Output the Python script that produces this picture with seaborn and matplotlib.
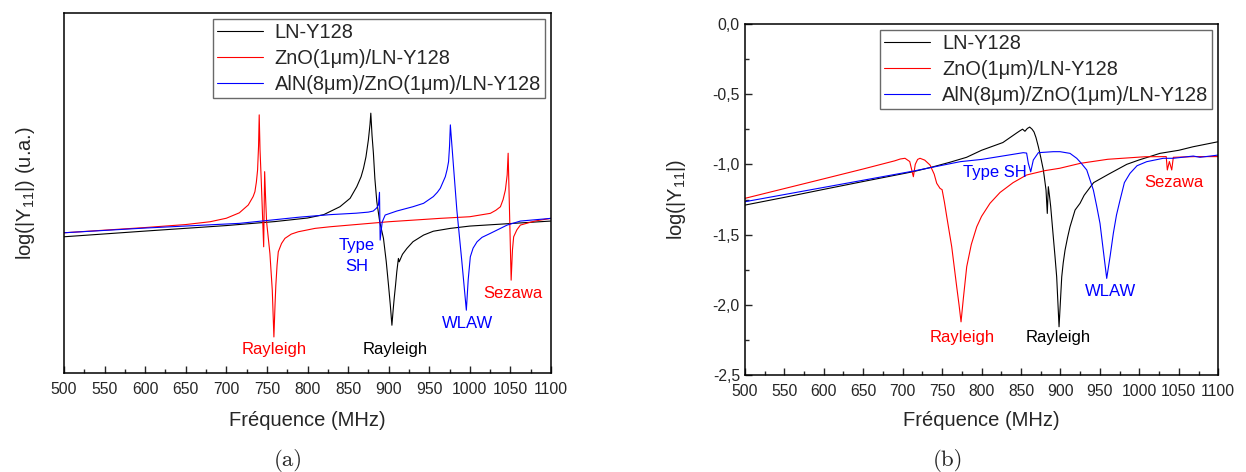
import pandas as pd
import numpy as np
import matplotlib.pyplot as plt
import seaborn as sns
from matplotlib.ticker import MultipleLocator, FuncFormatter

# series names / colours
series = ['LN-Y128', 'ZnO(1μm)/LN-Y128', 'AlN(8μm)/ZnO(1μm)/LN-Y128']
colors = ['black', 'red', 'blue']

# ---- (a) simulation, arbitrary units ----
a_f_ln = [500, 600, 700, 760, 800, 820, 840, 852.5, 860.7, 866, 869, 872, 875, 877, 878, 879.5, 881.2, 883,
          885.4, 889, 893.6, 897, 899.8, 902, 904, 905.5, 906.8, 908.5, 910, 912, 913, 917, 922.5, 930,
          943, 955, 976, 1000, 1050, 1100]
a_v_ln = [3.786, 3.944, 4.097, 4.208, 4.306, 4.40, 4.62, 4.853, 5.175, 5.45, 5.686, 6.0, 6.472, 6.9, 7.214, 6.6,
          6.103, 5.4, 4.758, 4.2, 3.742, 3.1, 2.444, 1.9, 1.333, 1.75, 2.075, 2.45, 2.814, 3.186, 3.092, 3.3,
          3.464, 3.65, 3.833, 3.94, 4.019, 4.083, 4.153, 4.222]

a_f_zno = [500, 600, 650, 680, 700, 716, 727, 733, 735.2, 737, 738.5, 739.7, 740.5, 741.5, 743, 746, 747.2,
           748.3, 749.6, 753.7, 756.6, 758.6, 760, 761, 762.5, 764, 768, 772.2, 780, 788.6, 809.3, 828, 900,
           963.6, 1000, 1025.3, 1032, 1037.7, 1041, 1043.8, 1046, 1047.2, 1049, 1050.9, 1052.5, 1054, 1058,
           1062.3, 1080, 1100]
a_v_zno = [3.897, 4.042, 4.125, 4.203, 4.30, 4.45, 4.667, 4.9, 5.036, 5.3, 5.639, 6.3, 7.167, 6.2, 5.361, 3.508,
           5.592, 4.9, 4.203, 3.319, 2.306, 1.008, 1.9, 2.444, 3.0, 3.369, 3.6, 3.742, 3.86, 3.925, 4.019,
           4.064, 4.203, 4.297, 4.342, 4.436, 4.52, 4.619, 4.82, 5.083, 5.5, 6.103, 4.389, 2.583, 3.417,
           3.786, 3.98, 4.111, 4.222, 4.297]

a_f_aln = [500, 600, 716, 790, 828, 860, 875, 881, 885, 887.4, 888.7, 889.5, 892, 895.7, 910, 930, 943, 955,
           960, 963.6, 969.8, 972, 973.8, 975, 976, 980, 984, 990, 995.7, 998, 1000.6, 1004, 1008.9, 1015,
           1025.3, 1046, 1062.3, 1100]
a_v_aln = [3.897, 4.028, 4.158, 4.33, 4.40, 4.44, 4.47, 4.50, 4.58, 4.667, 5.019, 3.694, 4.194, 4.389, 4.5,
           4.62, 4.714, 4.9, 5.02, 5.131, 5.453, 5.65, 5.869, 6.3, 6.889, 5.7, 4.528, 3.139, 1.75, 2.6, 3.231,
           3.47, 3.647, 3.77, 3.881, 4.111, 4.222, 4.297]

# ---- (b) measurement, log(|Y11|) ----
b_f_ln = [500, 550, 600, 650, 700, 713.5, 739, 760, 781, 800, 827, 845, 849, 852, 855, 858, 861, 864, 866.5,
          869, 872, 875, 878.3, 880, 881.7, 883.3, 884.6, 886, 887.6, 890.9, 893, 895.2, 898.2, 901.6, 903.5,
          905.8, 909, 912.1, 918.5, 924.8, 930, 942, 961, 984, 999, 1026, 1050, 1068, 1100]
b_y_ln = [-1.29, -1.235, -1.178, -1.122, -1.067, -1.052, -1.017, -0.985, -0.95, -0.9, -0.845, -0.775, -0.76,
          -0.75, -0.765, -0.745, -0.735, -0.75, -0.77, -0.81, -0.875, -0.95, -1.04, -1.11, -1.183, -1.349,
          -1.159, -1.22, -1.30, -1.515, -1.65, -1.80, -2.155, -1.80, -1.70, -1.61, -1.52, -1.444, -1.325,
          -1.277, -1.22, -1.13, -1.07, -1.0, -0.97, -0.922, -0.9, -0.875, -0.839]

b_f_zno = [500, 600, 650, 690, 697, 703, 709, 713.6, 716, 719, 722, 728, 734.7, 740, 743.2, 747.4, 750, 753,
           755.9, 762.2, 768.5, 771.5, 774, 777, 781.2, 787, 793.9, 800, 810.7, 823.4, 840, 857, 880, 899,
           925, 960, 1007, 1034, 1035.4, 1038, 1041, 1043, 1070, 1100]
b_y_zno = [-1.242, -1.103, -1.033, -0.975, -0.962, -0.957, -0.98, -1.088, -1.0, -0.965, -0.957, -0.97, -1.005,
           -1.07, -1.135, -1.171, -1.18, -1.27, -1.372, -1.586, -1.87, -2.0, -2.12, -1.95, -1.728, -1.57,
           -1.444, -1.37, -1.277, -1.2, -1.13, -1.076, -1.045, -1.028, -0.993, -0.964, -0.946, -0.945, -1.04,
           -0.98, -1.04, -0.95, -0.945, -0.945]

b_f_aln = [500, 600, 713.5, 773, 800, 852.9, 857.1, 859.3, 862.3, 865.6, 872, 890.9, 899.4, 912.1, 920.6,
           926, 933.3, 941.7, 946, 950.1, 954, 958.6, 963, 967, 971, 975.5, 981, 988.1, 997, 1009.3, 1030.3,
           1043, 1068.3, 1076.8, 1100]
b_y_aln = [-1.266, -1.164, -1.048, -0.981, -0.965, -0.917, -0.92, -0.993, -1.053, -0.969, -0.917, -0.91,
           -0.91, -0.922, -0.957, -0.99, -1.04, -1.183, -1.3, -1.42, -1.6, -1.811, -1.65, -1.49, -1.36,
           -1.254, -1.13, -1.064, -1.01, -0.981, -0.957, -0.957, -0.941, -0.95, -0.934]

# annotations (text, x, y, colour)
a_notes = [('Rayleigh', 759, 0.667, 'red'), ('Rayleigh', 908, 0.667, 'black'),
           ('Type\nSH', 860.5, 3.25, 'blue'), ('WLAW', 997, 1.38, 'blue'), ('Sezawa', 1053.6, 2.21, 'red')]
b_notes = [('Rayleigh', 776, -2.23, 'red'), ('Rayleigh', 897, -2.234, 'black'),
           ('Type SH', 817, -1.058, 'blue'), ('WLAW', 964, -1.907, 'blue'), ('Sezawa', 1043.7, -1.128, 'red')]


def make_df(fs, vs):
    rows = []
    for name, f, v in zip(series, fs, vs):
        rows.append(pd.DataFrame({'freq': f, 'val': v, 'serie': name}))
    return pd.concat(rows, ignore_index=True)


df_a = make_df([a_f_ln, a_f_zno, a_f_aln], [a_v_ln, a_v_zno, a_v_aln])
df_b = make_df([b_f_ln, b_f_zno, b_f_aln], [b_y_ln, b_y_zno, b_y_aln])

sns.set_style('ticks')
plt.rcParams['font.family'] = ['Liberation Sans', 'DejaVu Sans']
plt.rcParams['mathtext.fontset'] = 'custom'
plt.rcParams['mathtext.rm'] = 'Liberation Sans'
plt.rcParams['mathtext.it'] = 'Liberation Sans:italic'

W, H = 1246, 472
fig = plt.figure(figsize=(W / 100, H / 100), dpi=100)
ax1 = fig.add_axes([64 / W, 1 - 373.3 / H, 487 / W, 360.6 / H])
ax2 = fig.add_axes([744.8 / W, 1 - 375.3 / H, 473.5 / W, 351.6 / H])

pal = dict(zip(series, colors))
for ax, df in [(ax1, df_a), (ax2, df_b)]:
    sns.lineplot(data=df, x='freq', y='val', hue='serie', hue_order=series, palette=pal,
                 estimator=None, sort=False, linewidth=0.8, ax=ax)
    ax.set_xlim(500, 1100)
    ax.xaxis.set_major_locator(MultipleLocator(50))
    ax.xaxis.set_minor_locator(MultipleLocator(25))
    ax.tick_params(axis='both', which='both', direction='in', labelsize=11.3, width=1)
    ax.tick_params(axis='both', which='major', length=5)
    ax.tick_params(axis='both', which='minor', length=3)
    ax.tick_params(axis='x', pad=6)
    for s in ax.spines.values():
        s.set_visible(True)
        s.set_linewidth(1.1)
        s.set_color('black')
    ax.set_xlabel('Fréquence (MHz)', fontsize=14.5)
    h, l = ax.get_legend_handles_labels()
    leg = ax.legend(h, l, loc='upper right', fontsize=14.4, frameon=True, fancybox=False,
                    borderaxespad=0.3, handlelength=2.3, handletextpad=0.6,
                    labelspacing=0.35, borderpad=0.2)
    leg.get_frame().set_edgecolor('#444444')
    leg.get_frame().set_linewidth(1)
    for line in leg.get_lines():
        line.set_linewidth(0.8)

ax1.set_ylim(0, 10)
ax1.set_yticks([])
ax1.set_ylabel('log(|Y$_{11}$|) (u.a.)', fontsize=14.5)
ax1.yaxis.set_label_coords(-0.055, 0.5)
ax1.xaxis.set_label_coords(0.5, -0.105)

ax2.set_ylim(-2.5, 0)
ax2.yaxis.set_major_locator(MultipleLocator(0.5))
ax2.yaxis.set_minor_locator(MultipleLocator(0.25))
ax2.yaxis.set_major_formatter(FuncFormatter(lambda v, p: ('%.1f' % v).replace('.', ',').replace('-0,0', '0,0')))
ax2.tick_params(axis='y', pad=3.5)
ax2.set_ylabel('log(|Y$_{11}$|)', fontsize=14.5)
ax2.yaxis.set_label_coords(-0.12, 0.5)
ax2.xaxis.set_label_coords(0.5, -0.1015)

for ax, notes in [(ax1, a_notes), (ax2, b_notes)]:
    for txt, x, y, c in notes:
        ax.text(x, y, txt, color=c, fontsize=12, ha='center', va='center', linespacing=1.45)

fig.text(288 / W, 1 - 460 / H, '(a)', family=['cmr10', 'DejaVu Serif'], fontsize=16.5, ha='center', va='center')
fig.text(948 / W, 1 - 460 / H, '(b)', family=['cmr10', 'DejaVu Serif'], fontsize=16.5, ha='center', va='center')

fig.savefig('out.png', dpi=100)
